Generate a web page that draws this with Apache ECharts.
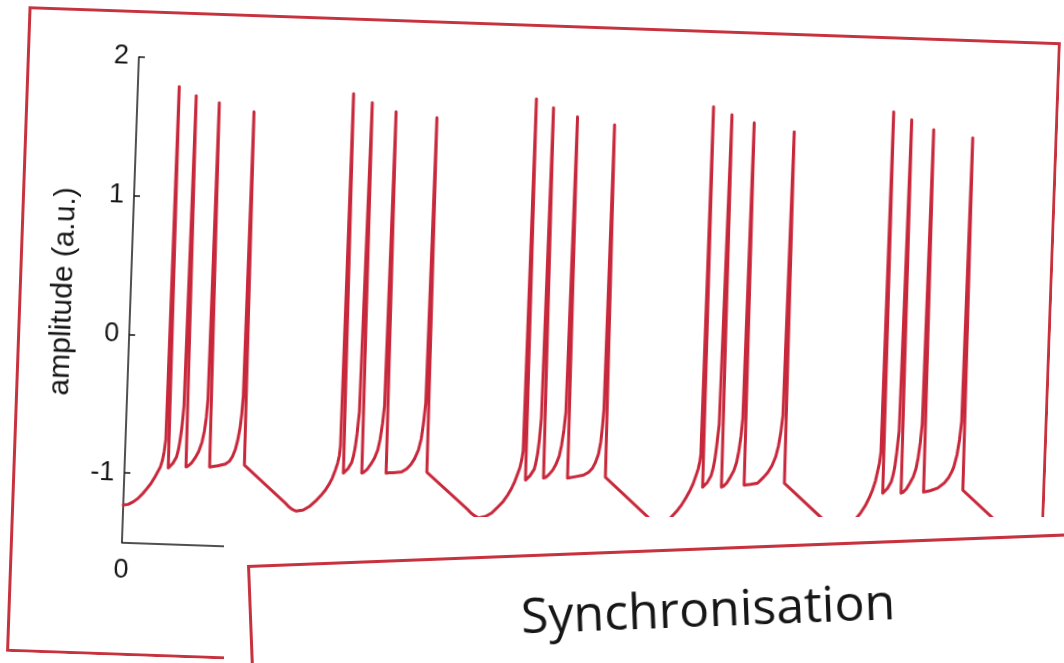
<!DOCTYPE html>
<html>
<head>
<meta charset="utf-8">
<script src="https://cdn.jsdelivr.net/npm/echarts@6/dist/echarts.min.js"></script>
<style>
  html, body { margin: 0; padding: 0; background: #fff; }
  #page { position: relative; width: 1064px; height: 663px; overflow: hidden; background: #fff; }
  /* printed card holding the bursting trace, slightly tilted */
  #traceCard { position: absolute; left: 16.5px; top: 24px; width: 1033px; height: 646px;
               transform: rotate(2deg); transform-origin: 50% 50%; }
  /* the next card laid over the lower right corner */
  #overlay { position: absolute; left: 224px; top: 517px; width: 840px; height: 146px;
             background: #fff; overflow: hidden; }
  #syncCard { position: absolute; left: 22.7px; top: 48px; width: 920px; height: 300px;
              transform: rotate(-2.2deg); transform-origin: 0 0; }
</style>
</head>
<body>
<div id="page">
  <div id="traceCard"></div>
  <div id="overlay"><div id="syncCard"></div></div>
</div>
<script>
// Membrane potential of a bursting neuron, [time, amplitude] pairs.
// Each burst holds four spikes followed by the slow recovery ramp.
const burst1 = [
  [0, -1.232], [5, -1.225], [10, -1.205], [14.8, -1.178], [19, -1.145], [23, -1.108], [27.2, -1.066],
  [30.5, -1.025], [33.2, -0.985], [35.7, -0.949], [37.6, -0.90], [39, -0.84], [40.3, -0.75],
  [41.4, 1.796],
  [43.7, -0.954], [45.7, -0.944], [48.2, -0.918], [51.6, -0.871], [53.2, -0.82], [54.4, -0.76], [55.9, -0.66], [57.3, -0.50],
  [58.7, 1.735],
  [61.4, -0.942], [63.5, -0.934], [66.5, -0.914], [70.5, -0.870], [73.5, -0.828], [76.5, -0.760], [78.5, -0.68], [80, -0.58], [81, -0.45],
  [82.0, 1.690],
  [85.0, -0.936], [87, -0.933], [93, -0.925], [100.6, -0.911], [104.5, -0.890], [107.5, -0.855], [110.2, -0.800],
  [112.2, -0.735], [114, -0.65], [115.3, -0.55], [116.2, -0.42],
  [117.0, 1.634],
  [119.7, -0.913],
  [161.9, -1.177], [166, -1.205], [169.5, -1.222], [173.2, -1.232],
  [180, -1.222], [186, -1.196], [192, -1.155], [197, -1.115], [201.5, -1.073], [205, -1.030], [208, -0.985],
  [210.8, -0.926], [212.8, -0.875], [214.3, -0.82], [215.1, -0.75]
];
const burst2 = [
  [215.9, 1.789],
  [218.9, -0.946], [220.9, -0.937], [223.4, -0.912], [226.8, -0.868], [228.4, -0.82], [229.8, -0.76], [231.2, -0.66], [232.8, -0.50],
  [234.9, 1.729],
  [237.3, -0.942], [239.4, -0.934], [242.4, -0.914], [246.3, -0.872], [249.5, -0.830], [252.5, -0.770], [254.5, -0.69], [256.3, -0.58], [257.7, -0.45],
  [259.0, 1.670],
  [261.6, -0.936], [264, -0.933], [269, -0.930], [276.9, -0.924], [282, -0.900], [286, -0.868], [289.5, -0.825],
  [293.1, -0.761], [295.5, -0.68], [297.2, -0.57], [298.8, -0.42],
  [300.0, 1.637],
  [302.3, -0.918],
  [344.3, -1.177], [348.4, -1.205], [351.9, -1.222], [355.8, -1.235],
  [362.6, -1.222], [368.6, -1.196], [374.6, -1.150], [379.6, -1.110], [383.9, -1.062], [387.4, -1.015], [390.4, -0.965],
  [393.2, -0.905], [395.2, -0.860], [396.8, -0.80], [397.8, -0.74]
];
const burst3 = [
  [398.8, 1.799],
  [401.1, -0.951], [403.1, -0.942], [405.6, -0.917], [409.5, -0.870], [411, -0.82], [412.3, -0.76], [413.6, -0.66], [414.9, -0.50],
  [416.2, 1.738],
  [419.1, -0.932], [421.2, -0.926], [424.2, -0.906], [428, -0.872], [431, -0.830], [434, -0.770], [436, -0.69], [437.8, -0.58], [439.2, -0.45],
  [440.5, 1.679],
  [443.1, -0.926], [445.5, -0.922], [450, -0.915], [459, -0.900], [464, -0.878], [467.5, -0.850], [470.5, -0.805],
  [473.2, -0.745], [475, -0.66], [476.2, -0.55], [477.1, -0.42],
  [477.8, 1.631],
  [480.9, -0.910],
  [522.9, -1.174], [527, -1.202], [530.5, -1.220], [534.4, -1.233],
  [541, -1.220], [547, -1.190], [553, -1.140], [558, -1.090], [562.3, -1.035], [565.8, -0.985], [568.8, -0.935],
  [571.6, -0.870], [573.4, -0.825], [574.8, -0.77], [575.5, -0.72]
];
const burst4 = [
  [576.1, 1.786],
  [578.4, -0.957], [580.4, -0.947], [583, -0.921], [586.5, -0.872], [588.2, -0.82], [589.6, -0.76], [591, -0.66], [592.8, -0.50],
  [594.8, 1.733],
  [597.2, -0.952], [599.3, -0.944], [602.3, -0.922], [606, -0.874], [609, -0.830], [611.5, -0.770], [613.3, -0.69], [615, -0.58], [616.2, -0.45],
  [617.3, 1.681],
  [619.8, -0.932], [622.5, -0.929], [626, -0.925], [633.2, -0.914], [639, -0.870], [643, -0.835], [647, -0.785],
  [650.3, -0.722], [652.8, -0.64], [654.7, -0.54], [656.2, -0.42],
  [657.6, 1.626],
  [660.0, -0.908],
  [702, -1.172], [706.1, -1.201], [709.6, -1.222], [713.5, -1.238],
  [720.3, -1.226], [726.3, -1.198], [732.3, -1.150], [737.3, -1.102], [741.6, -1.050], [745.1, -0.995], [748.1, -0.940],
  [750.9, -0.870], [752.7, -0.80], [754.3, -0.74], [755.4, -0.66]
];
const burst5 = [
  [756.3, 1.795],
  [758.6, -0.955], [760.6, -0.946], [763.2, -0.920], [766.8, -0.870], [768.4, -0.82], [769.8, -0.76], [771.2, -0.66], [772.9, -0.50],
  [774.6, 1.742],
  [776.9, -0.950], [779, -0.942], [782, -0.920], [785.5, -0.874], [788.5, -0.830], [791, -0.770], [792.8, -0.69], [794.4, -0.58], [795.7, -0.45],
  [796.9, 1.675],
  [799.4, -0.937], [802, -0.932], [806, -0.925], [813.4, -0.905], [820, -0.865], [824, -0.825], [826.7, -0.785],
  [828.7, -0.749], [831.5, -0.66], [833.5, -0.55], [835, -0.42],
  [836.2, 1.627],
  [838.6, -0.913],
  [880.6, -1.177], [884.7, -1.205], [888.2, -1.222], [892.1, -1.235], [900, -1.226]
];
const yTicks = [-1, 0, 1, 2];
const xTicks = [0];
const yAxisTitle = 'amplitude (a.u.)';
const nextCardTitle = 'Synchronisation';

const cardRed = '#c7323f';
const traceRed = '#c8283b';
const ink = '#161616';

const trace = [].concat(burst1, burst2, burst3, burst4, burst5);

const traceChart = echarts.init(document.getElementById('traceCard'), null, { renderer: 'canvas' });
traceChart.setOption({
  animation: false,
  backgroundColor: '#fff',
  graphic: [{
    type: 'rect', silent: true, z: 10,
    shape: { x: 1.5, y: 1.5, width: 1030, height: 643 },
    style: { fill: null, stroke: cardRed, lineWidth: 3 }
  }],
  grid: { left: 112, top: 47, width: 900, height: 485.5 },
  xAxis: {
    type: 'value', min: 0, max: 900,
    axisLine: { show: true, onZero: false, lineStyle: { color: ink, width: 1.5 } },
    axisTick: { show: false },
    splitLine: { show: false },
    axisLabel: { customValues: xTicks, margin: 15, fontSize: 27, color: ink, fontFamily: 'Liberation Sans' }
  },
  yAxis: {
    type: 'value', min: -1.5, max: 2,
    name: yAxisTitle, nameLocation: 'middle', nameGap: 52,
    nameTextStyle: { fontSize: 30, color: ink, fontFamily: 'Liberation Sans', padding: [0, 0, 0, 12] },
    axisLine: { show: true, onZero: false, lineStyle: { color: ink, width: 1.5 } },
    axisTick: { show: true, inside: true, length: 6, customValues: yTicks, lineStyle: { color: ink, width: 1.5 } },
    splitLine: { show: false },
    axisLabel: { customValues: yTicks, margin: 10, fontSize: 27, color: ink, fontFamily: 'Liberation Sans' }
  },
  series: [{
    type: 'line',
    data: trace,
    symbol: 'none',
    smooth: false,
    lineStyle: { color: traceRed, width: 3, join: 'round', cap: 'round' },
    clip: true
  }]
});

const cardChart = echarts.init(document.getElementById('syncCard'), null, { renderer: 'canvas' });
cardChart.setOption({
  animation: false,
  backgroundColor: '#fff',
  graphic: [
    {
      type: 'rect', silent: true,
      shape: { x: 1.5, y: 1.5, width: 960, height: 400 },
      style: { fill: '#fff', stroke: cardRed, lineWidth: 3 }
    },
    {
      type: 'text', silent: true, x: 459, y: 65,
      style: {
        text: nextCardTitle, fill: ink, font: 'normal 50px "Open Sans"',
        align: 'center', verticalAlign: 'middle'
      }
    }
  ]
});
</script>
</body>
</html>
